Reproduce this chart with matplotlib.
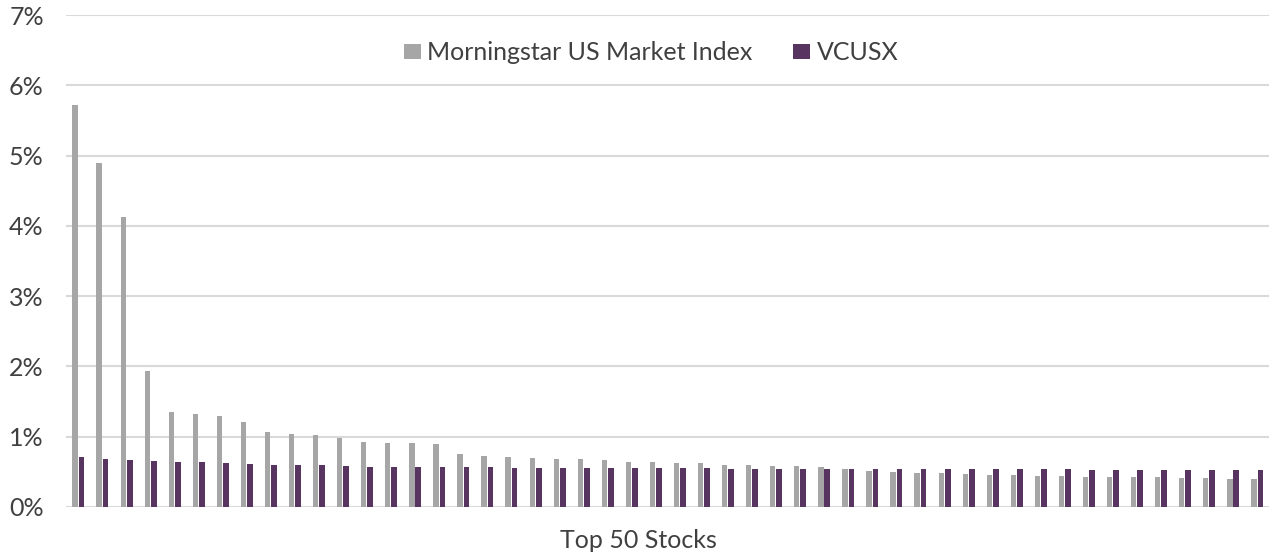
import matplotlib.pyplot as plt
import numpy as np

plt.rcParams['font.family'] = ['Lato', 'DejaVu Sans']

# weights in % for the top 50 holdings of the index, and VCUSX weight on the same stocks
stocks = [str(i) for i in range(1, 51)]
index_wt = [5.72, 4.89, 4.12, 1.93, 1.35, 1.32, 1.29, 1.20, 1.06, 1.03,
            1.02, 0.98, 0.92, 0.91, 0.91, 0.90, 0.75, 0.72, 0.71, 0.695,
            0.68, 0.676, 0.67, 0.643, 0.64, 0.624, 0.624, 0.595, 0.59, 0.58,
            0.58, 0.562, 0.533, 0.51, 0.495, 0.48, 0.476, 0.471, 0.452, 0.448,
            0.443, 0.438, 0.424, 0.419, 0.419, 0.419, 0.41, 0.405, 0.40, 0.395]
vcusx_wt = [0.71, 0.68, 0.665, 0.65, 0.64, 0.63, 0.62, 0.61, 0.60, 0.60,
            0.59, 0.575, 0.57, 0.565, 0.565, 0.56, 0.56, 0.56, 0.557, 0.557,
            0.557, 0.557, 0.552, 0.552, 0.552, 0.552, 0.548, 0.543, 0.543, 0.543,
            0.538, 0.538, 0.538, 0.538, 0.538, 0.538, 0.538, 0.533, 0.533, 0.533,
            0.533, 0.533, 0.529, 0.529, 0.524, 0.524, 0.524, 0.52, 0.52, 0.52]

gray = '#a6a6a6'
purple = '#583460'
txt = '#404040'

fig = plt.figure(figsize=(12.77, 5.58), dpi=100)
ax = fig.add_axes([0.0517, 0.0919, 0.9420, 0.8807])

x = np.arange(len(stocks))
ax.bar(x - 0.125, index_wt, width=0.22, color=gray, label='Morningstar US Market Index', zorder=3)
ax.bar(x + 0.145, vcusx_wt, width=0.24, color=purple, label='VCUSX', zorder=3)

ax.set_xlim(-0.5, len(stocks) - 0.5)
ax.set_ylim(0, 7)
ax.set_yticks(range(0, 8))
ax.set_yticklabels([f'{v}%' for v in range(0, 8)], fontsize=18, color=txt)
ax.set_xticks([])
ax.tick_params(axis='y', length=0, pad=16)
ax.yaxis.grid(True, color='#d9d9d9', linewidth=1.5, zorder=0)
for s in ax.spines.values():
    s.set_visible(False)

fig.text(0.5, 1 - 540 / 558, 'Top 50 Stocks', fontsize=18, color=txt, ha='center', va='center')

ax.legend(loc='center', bbox_to_anchor=(651 / 1277, 1 - 53 / 558), bbox_transform=fig.transFigure,
          ncol=2, frameon=False, fontsize=18, handlelength=0.7, handleheight=0.55,
          handletextpad=0.25, columnspacing=1.6, labelcolor=txt)

fig.savefig('out.png', dpi=100)
